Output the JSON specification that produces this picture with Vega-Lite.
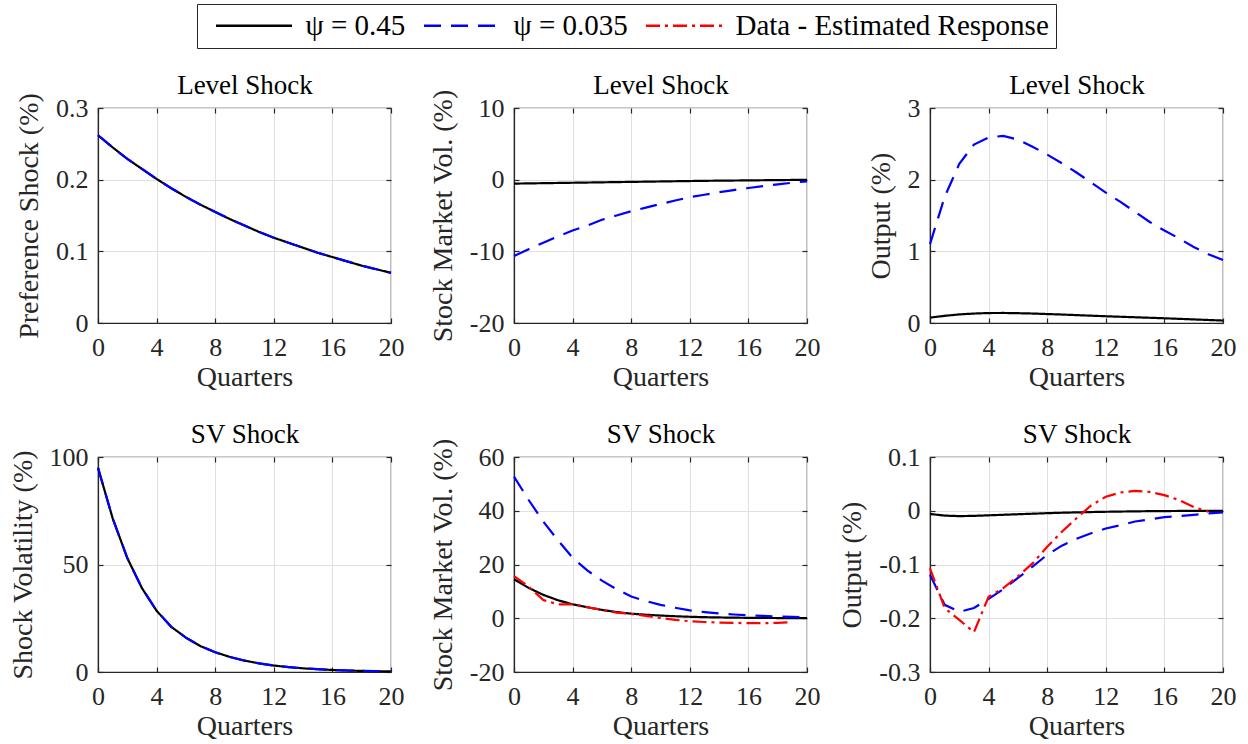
{
  "$schema": "https://vega.github.io/schema/vega-lite/v6.json",
  "background": "white",
  "padding": {"left": 8, "top": 3, "right": 5, "bottom": 5},
  "config": {
    "font": "Liberation Serif",
    "view": {"stroke": "#262626", "strokeWidth": 1.2},
    "axis": {
      "labelFont": "Liberation Serif", "labelFontSize": 26, "labelColor": "#262626",
      "titleFont": "Liberation Serif", "titleFontSize": 28, "titleFontWeight": "normal", "titleColor": "#262626",
      "gridColor": "#dfdfdf", "gridWidth": 1, "domainColor": "#262626", "domainWidth": 1.2,
      "ticks": true, "tickSize": -5, "tickColor": "#262626", "tickWidth": 1.2,
      "labelFlush": false, "labelOverlap": false
    },
    "axisBottom": {"labelPadding": 16, "titlePadding": 3},
    "axisLeft": {"labelPadding": 15, "titlePadding": 12},
    "axisTop": {"labels": false, "grid": false, "domain": false, "titleFontSize": 27, "titleColor": "#000000", "titlePadding": 14, "titleBaseline": "alphabetic"},
    "axisRight": {"labels": false, "grid": false, "domain": false},
    "legend": {
      "orient": "none", "legendX": 99, "legendY": -104, "direction": "horizontal",
      "labelFont": "Liberation Serif", "labelFontSize": 29, "labelColor": "#000000", "labelLimit": 0,
      "symbolType": "M-4,0H4", "symbolSize": 361, "symbolStrokeWidth": 2.4, "symbolOffset": 35.5,
      "labelOffset": 37,
      "strokeColor": "#262626", "fillColor": "white", "padding": 7, "columnPadding": 6
    }
  },
  "data": {"values": [
    {"p":"TL","q":0,"k":0.262,"b":0.262},{"p":"TL","q":1,"k":0.245,"b":0.245},{"p":"TL","q":2,"k":0.229,"b":0.229},{"p":"TL","q":3,"k":0.215,"b":0.215},{"p":"TL","q":4,"k":0.201,"b":0.201},{"p":"TL","q":5,"k":0.188,"b":0.188},{"p":"TL","q":6,"k":0.176,"b":0.176},{"p":"TL","q":7,"k":0.165,"b":0.165},{"p":"TL","q":8,"k":0.155,"b":0.155},{"p":"TL","q":9,"k":0.145,"b":0.145},{"p":"TL","q":10,"k":0.136,"b":0.136},{"p":"TL","q":11,"k":0.127,"b":0.127},{"p":"TL","q":12,"k":0.119,"b":0.119},{"p":"TL","q":13,"k":0.112,"b":0.112},{"p":"TL","q":14,"k":0.105,"b":0.105},{"p":"TL","q":15,"k":0.098,"b":0.098},{"p":"TL","q":16,"k":0.092,"b":0.092},{"p":"TL","q":17,"k":0.086,"b":0.086},{"p":"TL","q":18,"k":0.080,"b":0.080},{"p":"TL","q":19,"k":0.075,"b":0.075},{"p":"TL","q":20,"k":0.070,"b":0.070},
    {"p":"TM","q":0,"k":-0.55,"b":-10.65},{"p":"TM","q":1,"k":-0.52,"b":-9.7},{"p":"TM","q":2,"k":-0.49,"b":-8.8},{"p":"TM","q":3,"k":-0.46,"b":-7.9},{"p":"TM","q":4,"k":-0.43,"b":-7.1},{"p":"TM","q":5,"k":-0.40,"b":-6.4},{"p":"TM","q":6,"k":-0.37,"b":-5.6},{"p":"TM","q":7,"k":-0.34,"b":-5.0},{"p":"TM","q":8,"k":-0.31,"b":-4.4},{"p":"TM","q":9,"k":-0.28,"b":-3.9},{"p":"TM","q":10,"k":-0.25,"b":-3.4},{"p":"TM","q":11,"k":-0.22,"b":-2.9},{"p":"TM","q":12,"k":-0.19,"b":-2.45},{"p":"TM","q":13,"k":-0.16,"b":-2.1},{"p":"TM","q":14,"k":-0.14,"b":-1.75},{"p":"TM","q":15,"k":-0.12,"b":-1.45},{"p":"TM","q":16,"k":-0.10,"b":-1.16},{"p":"TM","q":17,"k":-0.08,"b":-0.9},{"p":"TM","q":18,"k":-0.06,"b":-0.65},{"p":"TM","q":19,"k":-0.04,"b":-0.43},{"p":"TM","q":20,"k":-0.02,"b":-0.23},
    {"p":"TR","q":0,"k":0.075,"b":1.10},{"p":"TR","q":1,"k":0.10,"b":1.76},{"p":"TR","q":2,"k":0.12,"b":2.22},{"p":"TR","q":3,"k":0.132,"b":2.49},{"p":"TR","q":4,"k":0.139,"b":2.59},{"p":"TR","q":5,"k":0.14,"b":2.61},{"p":"TR","q":6,"k":0.137,"b":2.56},{"p":"TR","q":7,"k":0.132,"b":2.46},{"p":"TR","q":8,"k":0.125,"b":2.35},{"p":"TR","q":9,"k":0.118,"b":2.23},{"p":"TR","q":10,"k":0.11,"b":2.10},{"p":"TR","q":11,"k":0.102,"b":1.96},{"p":"TR","q":12,"k":0.094,"b":1.82},{"p":"TR","q":13,"k":0.087,"b":1.69},{"p":"TR","q":14,"k":0.080,"b":1.55},{"p":"TR","q":15,"k":0.073,"b":1.41},{"p":"TR","q":16,"k":0.066,"b":1.29},{"p":"TR","q":17,"k":0.058,"b":1.18},{"p":"TR","q":18,"k":0.050,"b":1.06},{"p":"TR","q":19,"k":0.042,"b":0.96},{"p":"TR","q":20,"k":0.034,"b":0.88},
    {"p":"BL","q":0,"k":95,"b":95},{"p":"BL","q":1,"k":71.5,"b":71.5},{"p":"BL","q":2,"k":53,"b":53},{"p":"BL","q":3,"k":39,"b":39},{"p":"BL","q":4,"k":28.5,"b":28.5},{"p":"BL","q":5,"k":21,"b":21},{"p":"BL","q":6,"k":16,"b":16},{"p":"BL","q":7,"k":12,"b":12},{"p":"BL","q":8,"k":9.2,"b":9.2},{"p":"BL","q":9,"k":7,"b":7},{"p":"BL","q":10,"k":5.3,"b":5.3},{"p":"BL","q":11,"k":4.0,"b":4.0},{"p":"BL","q":12,"k":3.0,"b":3.0},{"p":"BL","q":13,"k":2.3,"b":2.3},{"p":"BL","q":14,"k":1.7,"b":1.7},{"p":"BL","q":15,"k":1.3,"b":1.3},{"p":"BL","q":16,"k":0.95,"b":0.95},{"p":"BL","q":17,"k":0.7,"b":0.7},{"p":"BL","q":18,"k":0.5,"b":0.5},{"p":"BL","q":19,"k":0.38,"b":0.38},{"p":"BL","q":20,"k":0.28,"b":0.28},
    {"p":"BM","q":0,"k":14.5,"b":52.7,"r":15.7},{"p":"BM","q":1,"k":11.3,"b":44,"r":11.8},{"p":"BM","q":2,"k":8.7,"b":36,"r":6.8},{"p":"BM","q":3,"k":6.7,"b":29,"r":5.2},{"p":"BM","q":4,"k":5.2,"b":22.5,"r":5.2},{"p":"BM","q":5,"k":4.1,"b":17.8,"r":4.1},{"p":"BM","q":6,"k":3.1,"b":14,"r":3.1},{"p":"BM","q":7,"k":2.3,"b":10.8,"r":2.1},{"p":"BM","q":8,"k":1.7,"b":8.1,"r":1.6},{"p":"BM","q":9,"k":1.3,"b":6.4,"r":0.9},{"p":"BM","q":10,"k":1.0,"b":5.0,"r":0.1},{"p":"BM","q":11,"k":0.75,"b":3.9,"r":-0.6},{"p":"BM","q":12,"k":0.55,"b":2.9,"r":-1.1},{"p":"BM","q":13,"k":0.4,"b":2.3,"r":-1.4},{"p":"BM","q":14,"k":0.3,"b":1.8,"r":-1.6},{"p":"BM","q":15,"k":0.22,"b":1.4,"r":-1.7},{"p":"BM","q":16,"k":0.16,"b":1.1,"r":-1.85},{"p":"BM","q":17,"k":0.12,"b":0.85,"r":-1.85},{"p":"BM","q":18,"k":0.08,"b":0.65,"r":-1.7},{"p":"BM","q":19,"k":0.05,"b":0.5,"r":-1.5},{"p":"BM","q":20,"k":0.03,"b":0.4},
    {"p":"BR","q":0,"k":-0.006,"b":-0.119,"r":-0.107},{"p":"BR","q":1,"k":-0.009,"b":-0.175,"r":-0.181},{"p":"BR","q":2,"k":-0.010,"b":-0.188,"r":-0.203},{"p":"BR","q":3,"k":-0.0095,"b":-0.181,"r":-0.226},{"p":"BR","q":4,"k":-0.0085,"b":-0.164,"r":-0.160},{"p":"BR","q":5,"k":-0.0075,"b":-0.146,"r":-0.144},{"p":"BR","q":6,"k":-0.0065,"b":-0.125,"r":-0.122},{"p":"BR","q":7,"k":-0.0055,"b":-0.104,"r":-0.098},{"p":"BR","q":8,"k":-0.0045,"b":-0.082,"r":-0.067},{"p":"BR","q":9,"k":-0.0037,"b":-0.065,"r":-0.039},{"p":"BR","q":10,"k":-0.003,"b":-0.052,"r":-0.014},{"p":"BR","q":11,"k":-0.0024,"b":-0.042,"r":0.010},{"p":"BR","q":12,"k":-0.0019,"b":-0.033,"r":0.026},{"p":"BR","q":13,"k":-0.0015,"b":-0.027,"r":0.034},{"p":"BR","q":14,"k":-0.0011,"b":-0.020,"r":0.037},{"p":"BR","q":15,"k":-0.0008,"b":-0.016,"r":0.035},{"p":"BR","q":16,"k":-0.0006,"b":-0.012,"r":0.029},{"p":"BR","q":17,"k":-0.0004,"b":-0.010,"r":0.020},{"p":"BR","q":18,"k":-0.0003,"b":-0.0075,"r":0.007},{"p":"BR","q":19,"k":-0.0002,"b":-0.005,"r":-0.002},{"p":"BR","q":20,"k":-0.0001,"b":-0.003}
  ]},
  "columns": 3,
  "spacing": {"row": 134, "column": 123},
  "bounds": "flush",
  "concat": [
    {
      "width": 293, "height": 215,
      "transform": [{"filter": "datum.p == 'TL'"}, {"fold": ["k", "b", "r"], "as": ["s", "val"]}, {"filter": "isValid(datum.val)"}],
      "encoding": {
        "x": {"field": "q", "type": "quantitative", "scale": {"domain": [0, 20], "nice": false}, "axis": {"values": [0, 4, 8, 12, 16, 20], "title": "Quarters"}},
        "y": {"field": "val", "type": "quantitative", "scale": {"domain": [0, 0.3], "nice": false, "zero": false}, "axis": {"values": [0, 0.1, 0.2, 0.3], "title": "Preference Shock (%)", "labelExpr": "'' + datum.value"}}
      },
      "layer": [
        {"mark": {"type": "line", "strokeWidth": 2.2}, "encoding": {
          "color": {"field": "s", "type": "nominal", "scale": {"domain": ["k", "b", "r"], "range": ["#000000", "#0000ff", "#ff0000"]}, "legend": {"title": null, "symbolType": "M-4,0H4", "labelExpr": "datum.label == 'k' ? 'ψ = 0.45' : datum.label == 'b' ? 'ψ = 0.035' : 'Data - Estimated Response'"}},
          "strokeDash": {"field": "s", "type": "nominal", "scale": {"domain": ["k", "b", "r"], "range": [[1, 0], [17, 10], [14, 5, 3, 5]]}, "legend": {"title": null, "symbolType": "M-4,0H4", "labelExpr": "datum.label == 'k' ? 'ψ = 0.45' : datum.label == 'b' ? 'ψ = 0.035' : 'Data - Estimated Response'"}}
        }},
        {"mark": {"type": "line", "strokeOpacity": 0}, "encoding": {
          "x": {"field": "q", "type": "quantitative", "axis": {"orient": "top", "title": "Level Shock", "values": [0, 4, 8, 12, 16, 20]}},
          "y": {"field": "val", "type": "quantitative", "axis": {"orient": "right", "title": null, "values": [0, 0.1, 0.2, 0.3]}}
        }}
      ],
      "resolve": {"axis": {"x": "independent", "y": "independent"}}
    },
    {
      "width": 293, "height": 215,
      "transform": [{"filter": "datum.p == 'TM'"}, {"fold": ["k", "b", "r"], "as": ["s", "val"]}, {"filter": "isValid(datum.val)"}],
      "encoding": {
        "x": {"field": "q", "type": "quantitative", "scale": {"domain": [0, 20], "nice": false}, "axis": {"values": [0, 4, 8, 12, 16, 20], "title": "Quarters"}},
        "y": {"field": "val", "type": "quantitative", "scale": {"domain": [-20, 10], "nice": false, "zero": false}, "axis": {"values": [-20, -10, 0, 10], "title": "Stock Market Vol. (%)", "labelExpr": "'' + datum.value"}}
      },
      "layer": [
        {"mark": {"type": "line", "strokeWidth": 2.2}, "encoding": {
          "color": {"field": "s", "type": "nominal", "scale": {"domain": ["k", "b", "r"], "range": ["#000000", "#0000ff", "#ff0000"]}, "legend": {"title": null, "symbolType": "M-4,0H4", "labelExpr": "datum.label == 'k' ? 'ψ = 0.45' : datum.label == 'b' ? 'ψ = 0.035' : 'Data - Estimated Response'"}},
          "strokeDash": {"field": "s", "type": "nominal", "scale": {"domain": ["k", "b", "r"], "range": [[1, 0], [17, 10], [14, 5, 3, 5]]}, "legend": {"title": null, "symbolType": "M-4,0H4", "labelExpr": "datum.label == 'k' ? 'ψ = 0.45' : datum.label == 'b' ? 'ψ = 0.035' : 'Data - Estimated Response'"}}
        }},
        {"mark": {"type": "line", "strokeOpacity": 0}, "encoding": {
          "x": {"field": "q", "type": "quantitative", "axis": {"orient": "top", "title": "Level Shock", "values": [0, 4, 8, 12, 16, 20]}},
          "y": {"field": "val", "type": "quantitative", "axis": {"orient": "right", "title": null, "values": [-20, -10, 0, 10]}}
        }}
      ],
      "resolve": {"axis": {"x": "independent", "y": "independent"}}
    },
    {
      "width": 293, "height": 215,
      "transform": [{"filter": "datum.p == 'TR'"}, {"fold": ["k", "b", "r"], "as": ["s", "val"]}, {"filter": "isValid(datum.val)"}],
      "encoding": {
        "x": {"field": "q", "type": "quantitative", "scale": {"domain": [0, 20], "nice": false}, "axis": {"values": [0, 4, 8, 12, 16, 20], "title": "Quarters"}},
        "y": {"field": "val", "type": "quantitative", "scale": {"domain": [0, 3], "nice": false, "zero": false}, "axis": {"values": [0, 1, 2, 3], "title": "Output (%)", "labelExpr": "'' + datum.value"}}
      },
      "layer": [
        {"mark": {"type": "line", "strokeWidth": 2.2}, "encoding": {
          "color": {"field": "s", "type": "nominal", "scale": {"domain": ["k", "b", "r"], "range": ["#000000", "#0000ff", "#ff0000"]}, "legend": {"title": null, "symbolType": "M-4,0H4", "labelExpr": "datum.label == 'k' ? 'ψ = 0.45' : datum.label == 'b' ? 'ψ = 0.035' : 'Data - Estimated Response'"}},
          "strokeDash": {"field": "s", "type": "nominal", "scale": {"domain": ["k", "b", "r"], "range": [[1, 0], [17, 10], [14, 5, 3, 5]]}, "legend": {"title": null, "symbolType": "M-4,0H4", "labelExpr": "datum.label == 'k' ? 'ψ = 0.45' : datum.label == 'b' ? 'ψ = 0.035' : 'Data - Estimated Response'"}}
        }},
        {"mark": {"type": "line", "strokeOpacity": 0}, "encoding": {
          "x": {"field": "q", "type": "quantitative", "axis": {"orient": "top", "title": "Level Shock", "values": [0, 4, 8, 12, 16, 20]}},
          "y": {"field": "val", "type": "quantitative", "axis": {"orient": "right", "title": null, "values": [0, 1, 2, 3]}}
        }}
      ],
      "resolve": {"axis": {"x": "independent", "y": "independent"}}
    },
    {
      "width": 293, "height": 215,
      "transform": [{"filter": "datum.p == 'BL'"}, {"fold": ["k", "b", "r"], "as": ["s", "val"]}, {"filter": "isValid(datum.val)"}],
      "encoding": {
        "x": {"field": "q", "type": "quantitative", "scale": {"domain": [0, 20], "nice": false}, "axis": {"values": [0, 4, 8, 12, 16, 20], "title": "Quarters"}},
        "y": {"field": "val", "type": "quantitative", "scale": {"domain": [0, 100], "nice": false, "zero": false}, "axis": {"values": [0, 50, 100], "title": "Shock Volatility (%)", "labelExpr": "'' + datum.value"}}
      },
      "layer": [
        {"mark": {"type": "line", "strokeWidth": 2.2}, "encoding": {
          "color": {"field": "s", "type": "nominal", "scale": {"domain": ["k", "b", "r"], "range": ["#000000", "#0000ff", "#ff0000"]}, "legend": {"title": null, "symbolType": "M-4,0H4", "labelExpr": "datum.label == 'k' ? 'ψ = 0.45' : datum.label == 'b' ? 'ψ = 0.035' : 'Data - Estimated Response'"}},
          "strokeDash": {"field": "s", "type": "nominal", "scale": {"domain": ["k", "b", "r"], "range": [[1, 0], [17, 10], [14, 5, 3, 5]]}, "legend": {"title": null, "symbolType": "M-4,0H4", "labelExpr": "datum.label == 'k' ? 'ψ = 0.45' : datum.label == 'b' ? 'ψ = 0.035' : 'Data - Estimated Response'"}}
        }},
        {"mark": {"type": "line", "strokeOpacity": 0}, "encoding": {
          "x": {"field": "q", "type": "quantitative", "axis": {"orient": "top", "title": "SV Shock", "values": [0, 4, 8, 12, 16, 20]}},
          "y": {"field": "val", "type": "quantitative", "axis": {"orient": "right", "title": null, "values": [0, 50, 100]}}
        }}
      ],
      "resolve": {"axis": {"x": "independent", "y": "independent"}}
    },
    {
      "width": 293, "height": 215,
      "transform": [{"filter": "datum.p == 'BM'"}, {"fold": ["k", "b", "r"], "as": ["s", "val"]}, {"filter": "isValid(datum.val)"}],
      "encoding": {
        "x": {"field": "q", "type": "quantitative", "scale": {"domain": [0, 20], "nice": false}, "axis": {"values": [0, 4, 8, 12, 16, 20], "title": "Quarters"}},
        "y": {"field": "val", "type": "quantitative", "scale": {"domain": [-20, 60], "nice": false, "zero": false}, "axis": {"values": [-20, 0, 20, 40, 60], "title": "Stock Market Vol. (%)", "labelExpr": "'' + datum.value"}}
      },
      "layer": [
        {"mark": {"type": "line", "strokeWidth": 2.2}, "encoding": {
          "color": {"field": "s", "type": "nominal", "scale": {"domain": ["k", "b", "r"], "range": ["#000000", "#0000ff", "#ff0000"]}, "legend": {"title": null, "symbolType": "M-4,0H4", "labelExpr": "datum.label == 'k' ? 'ψ = 0.45' : datum.label == 'b' ? 'ψ = 0.035' : 'Data - Estimated Response'"}},
          "strokeDash": {"field": "s", "type": "nominal", "scale": {"domain": ["k", "b", "r"], "range": [[1, 0], [17, 10], [14, 5, 3, 5]]}, "legend": {"title": null, "symbolType": "M-4,0H4", "labelExpr": "datum.label == 'k' ? 'ψ = 0.45' : datum.label == 'b' ? 'ψ = 0.035' : 'Data - Estimated Response'"}}
        }},
        {"mark": {"type": "line", "strokeOpacity": 0}, "encoding": {
          "x": {"field": "q", "type": "quantitative", "axis": {"orient": "top", "title": "SV Shock", "values": [0, 4, 8, 12, 16, 20]}},
          "y": {"field": "val", "type": "quantitative", "axis": {"orient": "right", "title": null, "values": [-20, 0, 20, 40, 60]}}
        }}
      ],
      "resolve": {"axis": {"x": "independent", "y": "independent"}}
    },
    {
      "width": 293, "height": 215,
      "transform": [{"filter": "datum.p == 'BR'"}, {"fold": ["k", "b", "r"], "as": ["s", "val"]}, {"filter": "isValid(datum.val)"}],
      "encoding": {
        "x": {"field": "q", "type": "quantitative", "scale": {"domain": [0, 20], "nice": false}, "axis": {"values": [0, 4, 8, 12, 16, 20], "title": "Quarters"}},
        "y": {"field": "val", "type": "quantitative", "scale": {"domain": [-0.3, 0.1], "nice": false, "zero": false}, "axis": {"values": [-0.3, -0.2, -0.1, 0, 0.1], "title": "Output (%)", "labelExpr": "'' + datum.value"}}
      },
      "layer": [
        {"mark": {"type": "line", "strokeWidth": 2.2}, "encoding": {
          "color": {"field": "s", "type": "nominal", "scale": {"domain": ["k", "b", "r"], "range": ["#000000", "#0000ff", "#ff0000"]}, "legend": {"title": null, "symbolType": "M-4,0H4", "labelExpr": "datum.label == 'k' ? 'ψ = 0.45' : datum.label == 'b' ? 'ψ = 0.035' : 'Data - Estimated Response'"}},
          "strokeDash": {"field": "s", "type": "nominal", "scale": {"domain": ["k", "b", "r"], "range": [[1, 0], [17, 10], [14, 5, 3, 5]]}, "legend": {"title": null, "symbolType": "M-4,0H4", "labelExpr": "datum.label == 'k' ? 'ψ = 0.45' : datum.label == 'b' ? 'ψ = 0.035' : 'Data - Estimated Response'"}}
        }},
        {"mark": {"type": "line", "strokeOpacity": 0}, "encoding": {
          "x": {"field": "q", "type": "quantitative", "axis": {"orient": "top", "title": "SV Shock", "values": [0, 4, 8, 12, 16, 20]}},
          "y": {"field": "val", "type": "quantitative", "axis": {"orient": "right", "title": null, "values": [-0.3, -0.2, -0.1, 0, 0.1]}}
        }}
      ],
      "resolve": {"axis": {"x": "independent", "y": "independent"}}
    }
  ]
}
